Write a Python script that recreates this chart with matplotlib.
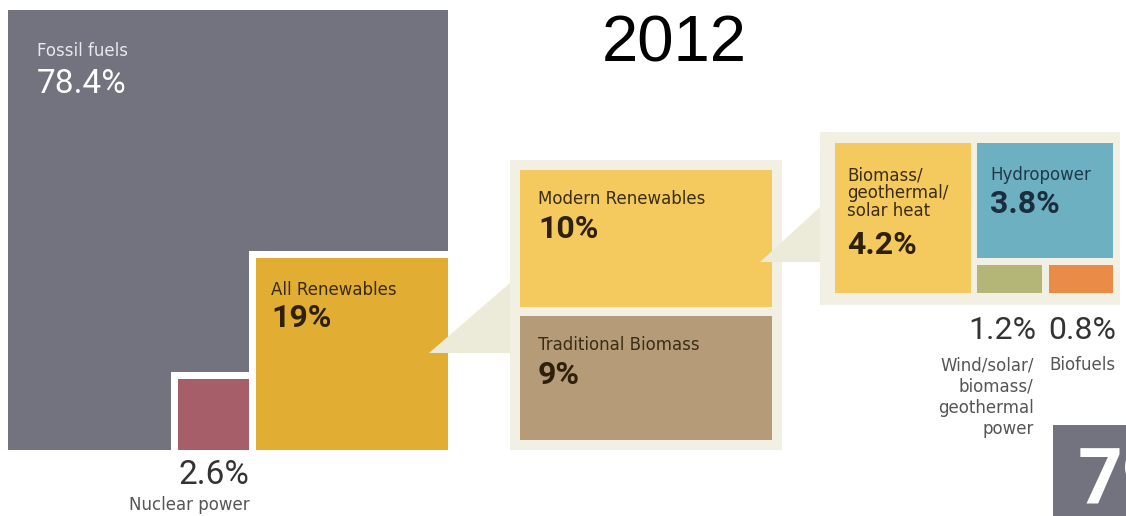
import numpy as np
import matplotlib.pyplot as plt
from matplotlib.patches import Rectangle, Polygon

year = '2012'

# world final energy consumption, shares in %
top_labels = ['Fossil fuels', 'All Renewables', 'Nuclear power']
top_shares = np.array([78.4, 19.0, 2.6])

split_labels = ['Modern Renewables', 'Traditional Biomass']
split_shares = np.array([10.0, 9.0])

modern_labels = ['Biomass/\ngeothermal/\nsolar heat', 'Hydropower',
                 'Wind/solar/\nbiomass/\ngeothermal\npower', 'Biofuels']
modern_shares = np.array([4.2, 3.8, 1.2, 0.8])

next_value = '79'

top_colors = ['#72737f', '#e1ad32', '#a65e68']
split_colors = ['#f4c95d', '#b59b78']
modern_colors = ['#f4c95d', '#6db0c1', '#b4b678', '#ea8b48']
panel_bg = '#f2f0e2'
wedge_color = '#ecead8'


def pct(v):
    return f'{v:g}%'


fig = plt.figure(figsize=(11.26, 5.16), dpi=100)
ax = fig.add_axes([0, 0, 1, 1])
ax.set_xlim(0, 1126)
ax.set_ylim(516, 0)
ax.axis('off')

LABEL = dict(family='DejaVu Sans', fontsize=12, va='top')
NUM = dict(family='Roboto', fontsize=23, va='top')


def box(x, y, w, h, color, z=1):
    ax.add_patch(Rectangle((x, y), w, h, facecolor=color,
                           edgecolor='none', zorder=z))


ax.text(674, 61, year, family='Liberation Sans', fontsize=47,
        ha='center', va='baseline', color='black')

## big square = 100 %, inner squares sized by area
S = 440
x0, y0 = 8, 10
gap = 7
right, bottom = x0 + S, y0 + S
box(x0, y0, S, S, top_colors[0])

ren = S * np.sqrt(top_shares[1] / 100)
nuc = S * np.sqrt(top_shares[2] / 100)
rx, ry = right - ren, bottom - ren
box(rx - gap, ry - gap, ren + gap, ren + gap, 'white', 2)
box(rx, ry, ren, ren, top_colors[1], 3)
nx, ny = rx - gap - nuc, bottom - nuc
box(nx - gap, ny - gap, nuc + gap, nuc + gap, 'white', 2)
box(nx, ny, nuc, nuc, top_colors[2], 3)

ax.text(x0 + 29, y0 + 32, top_labels[0], color='#e8e8ee', zorder=5, **LABEL)
ax.text(x0 + 29, y0 + 58, pct(top_shares[0]), color='white', zorder=5,
        family='Roboto', fontsize=24, va='top')
ax.text(rx + 15, ry + 23, top_labels[1], color='#3a2a10', zorder=5, **LABEL)
ax.text(rx + 15, ry + 45, pct(top_shares[1]), color='#2e200a',
        fontweight='bold', zorder=5, **NUM)
ax.text(nx + nuc, bottom + 9, pct(top_shares[2]), color='#333333',
        ha='right', zorder=5, family='Roboto', fontsize=24, va='top')
ax.text(nx + nuc, bottom + 46, top_labels[2], color='#555555',
        ha='right', zorder=5, **LABEL)

## renewables split: modern vs traditional
px, py, pw, ph = 510, 160, 272, 290
pad, vgap = 10, 9
box(px, py, pw, ph, panel_bg)
tw = pw - 2 * pad
heights = (ph - 2 * pad - vgap) * split_shares / split_shares.sum()
ty = py + pad
for lab, v, h, c in zip(split_labels, split_shares, heights, split_colors):
    box(px + pad, ty, tw, h, c, 2)
    ax.text(px + pad + 18, ty + 20, lab, color='#3a2d16', zorder=5, **LABEL)
    ax.text(px + pad + 18, ty + 44, pct(v), color='#2e200a',
            fontweight='bold', zorder=5, **NUM)
    ty += h + vgap

# callout wedges
ax.add_patch(Polygon([(rx + ren - 19, 353), (px, 283), (px, 353)],
                     facecolor=wedge_color, edgecolor='none', zorder=4))
ax.add_patch(Polygon([(px + pw - 22, 262), (820, 207), (820, 262)],
                     facecolor=wedge_color, edgecolor='none', zorder=4))

## modern renewables breakdown
qx, qy, qw, qh = 820, 132, 300, 173
box(qx, qy, qw, qh, panel_bg)
tx, ty = 835, 143
tw, th = 278, 150
cgap = 6
cw = (tw - cgap) / 2
small_h = 28
sw = (cw - gap) / 2

# left column
box(tx, ty, cw, th, modern_colors[0], 2)
ax.text(tx + 12, ty + 23, modern_labels[0], color='#3a2d16', zorder=5,
        linespacing=1.0, **LABEL)
ax.text(tx + 12, ty + 87, pct(modern_shares[0]), color='#2e200a',
        fontweight='bold', zorder=5, **NUM)

# right column: hydro on top, two small tiles below
hx = tx + cw + cgap
hh = th - small_h - gap
box(hx, ty, cw, hh, modern_colors[1], 2)
ax.text(hx + 13, ty + 23, modern_labels[1], color='#1e3a48', zorder=5, **LABEL)
ax.text(hx + 13, ty + 46, pct(modern_shares[1]), color='#1a2e3e',
        fontweight='bold', zorder=5, **NUM)

sy = ty + th - small_h
wx = hx
bx = hx + sw + gap
box(wx, sy, sw, small_h, modern_colors[2], 2)
box(bx, sy, sw, small_h, modern_colors[3], 2)

ax.text(wx + sw - 5, sy + small_h + 23, pct(modern_shares[2]), color='#333333',
        ha='right', family='Roboto', fontsize=23, va='top')
ax.text(bx, sy + small_h + 23, pct(modern_shares[3]), color='#333333',
        ha='left', family='Roboto', fontsize=23, va='top')
ax.text(wx + sw - 8, sy + small_h + 63, modern_labels[2], color='#555555',
        ha='right', linespacing=1.25, **LABEL)
ax.text(bx + 1, sy + small_h + 63, modern_labels[3], color='#555555',
        ha='left', **LABEL)

# start of the next square, cut off at the edge
box(1053, 425, 100, 100, top_colors[0])
ax.text(1078, 446, next_value, color='white', family='Roboto',
        fontsize=56, fontweight='bold', va='top', ha='left')

fig.savefig('out.png', dpi=100)
